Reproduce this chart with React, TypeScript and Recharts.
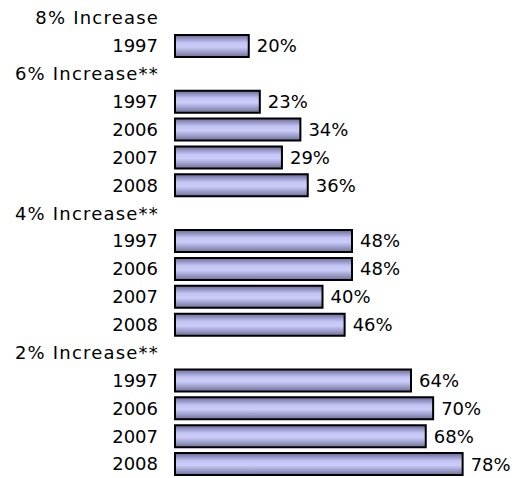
import React from 'react';
import { BarChart, Bar, XAxis, YAxis, LabelList } from 'recharts';

const categories = ['8% Increase', '1997', '6% Increase**', '1997', '2006', '2007', '2008', '4% Increase**', '1997', '2006', '2007', '2008', '2% Increase**', '1997', '2006', '2007', '2008'];
const values: (number | null)[] = [null, 20, null, 23, 34, 29, 36, null, 48, 48, 40, 46, null, 64, 70, 68, 78];

const data = categories.map((c, i) => ({ id: i, label: c, value: values[i] }));

const FONT = '"DejaVu Sans", Verdana, sans-serif';

const Tick = (props: any) => {
  const { x, y, payload } = props;
  const label = categories[payload.value];
  const isHeader = values[payload.value] == null;
  return (
    <text
      x={isHeader ? x + 1 : x}
      y={y}
      dy="0.355em"
      textAnchor="end"
      fill="#000"
      fontSize={18}
      fontFamily={FONT}
      letterSpacing={isHeader ? 1.2 : 0}
    >
      {label}
    </text>
  );
};

export default function App() {
  return (
    <div style={{ position: 'absolute', left: 0, top: 0, background: '#fff' }}>
      <BarChart
        width={516}
        height={478}
        data={data}
        layout="vertical"
        margin={{ top: 4, right: 46, bottom: 0, left: 0 }}
      >
        <defs>
          <linearGradient id="barGrad" x1="0" y1="0" x2="0" y2="1">
            <stop offset="0%" stopColor="#68689a" />
            <stop offset="35%" stopColor="#c4c4f4" />
            <stop offset="55%" stopColor="#ccccfa" />
            <stop offset="100%" stopColor="#70709c" />
          </linearGradient>
        </defs>
        <XAxis type="number" domain={[0, 80]} hide />
        <YAxis
          type="category"
          dataKey="id"
          width={175}
          axisLine={false}
          tickLine={false}
          tickSize={0}
          tickMargin={17}
          interval={0}
          tick={<Tick />}
        />
        <Bar
          dataKey="value"
          fill="url(#barGrad)"
          stroke="#000"
          strokeWidth={2}
          barSize={22}
          isAnimationActive={false}
        >
          <LabelList
            dataKey="value"
            position="right"
            offset={8}
            fill="#000"
            fontSize={18}
            fontFamily={FONT}
            formatter={(v: any) => (v == null ? '' : `${v}%`)}
          />
        </Bar>
      </BarChart>
    </div>
  );
}
